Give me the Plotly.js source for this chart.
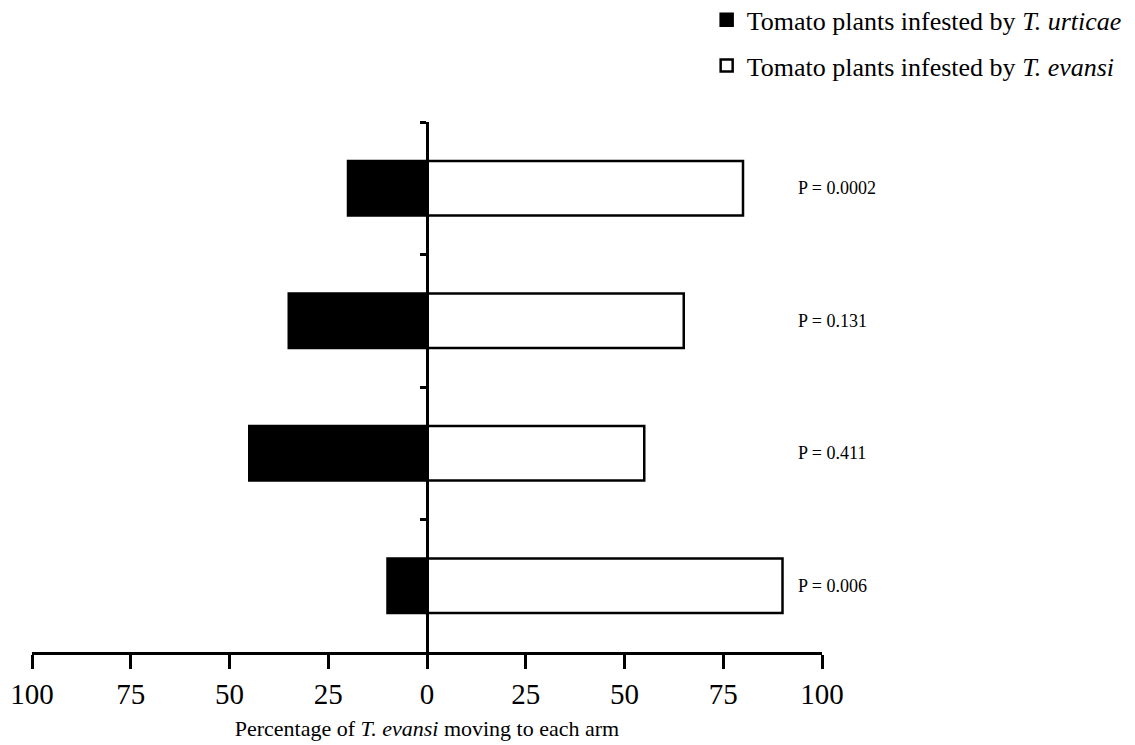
<!DOCTYPE html>
<html>
<head>
<meta charset="utf-8">
<script src="https://cdn.plot.ly/plotly-3.0.1.min.js"></script>
<style>html,body{margin:0;padding:0;background:#fff;}#chart{width:1135px;height:745px;}</style>
</head>
<body>
<div id="chart"></div>
<script>
// Data (rows top to bottom)
const rowIndex = [0, 1, 2, 3];
const pLabels = ['P = 0.0002', 'P = 0.131', 'P = 0.411', 'P = 0.006'];
const urticaePct = [20, 35, 45, 10];   // % moving to plants infested by T. urticae (left)
const evansiPct = [80, 65, 55, 90];    // % moving to plants infested by T. evansi (right)
const tickValues = [-100, -75, -50, -25, 0, 25, 50, 75, 100];
const tickLabels = ['100', '75', '50', '25', '0', '25', '50', '75', '100'];
const separators = [-0.5, 0.5, 1.5, 2.5];

const serif = 'Liberation Serif, Times New Roman, serif';

const traces = [
  {
    type: 'bar', orientation: 'h',
    name: 'Tomato plants infested by <i>T. urticae</i>',
    y: rowIndex, x: urticaePct.map(v => -v),
    width: 0.41,
    marker: {color: '#000', line: {color: '#000', width: 2.5}},
    legendgroup: 'a', hoverinfo: 'skip'
  },
  {
    type: 'bar', orientation: 'h',
    name: 'Tomato plants infested by <i>T. evansi</i>',
    y: rowIndex, x: evansiPct,
    width: 0.41,
    marker: {color: '#fff', line: {color: '#000', width: 2.5}},
    legendgroup: 'b', hoverinfo: 'skip'
  }
];

const annotations = pLabels.map((t, i) => ({
  text: t, x: 93.3, y: rowIndex[i], xref: 'x', yref: 'y',
  xanchor: 'left', yanchor: 'middle', showarrow: false,
  font: {family: serif, size: 18, color: '#000'}
}));

const layout = {
  width: 1135, height: 745,
  margin: {l: 32, r: 313, t: 122, b: 93, autoexpand: false},
  paper_bgcolor: '#fff', plot_bgcolor: '#fff',
  barmode: 'relative',
  showlegend: true,
  legend: {
    x: 0.854, y: 1.237, xanchor: 'left', yanchor: 'top',
    font: {family: serif, size: 26, color: '#000'},
    traceorder: 'grouped', tracegroupgap: 9,
    bgcolor: 'rgba(0,0,0,0)'
  },
  xaxis: {
    range: [-100, 100],
    tickvals: tickValues, ticktext: tickLabels,
    ticks: 'outside', ticklen: 14, tickwidth: 3, tickcolor: '#000',
    showline: true, linewidth: 3, linecolor: '#000',
    showgrid: false, zeroline: false,
    tickfont: {family: serif, size: 29, color: '#000'},
    title: {text: 'Percentage of <i>T. evansi</i> moving to each arm',
            font: {family: serif, size: 22, color: '#000'}, standoff: 12},
    fixedrange: true
  },
  yaxis: {
    range: [3.5, -0.5],
    anchor: 'free', position: 0.5,
    tickvals: separators, showticklabels: false,
    ticks: 'outside', ticklen: 6, tickwidth: 3, tickcolor: '#000',
    showline: true, linewidth: 3, linecolor: '#000',
    showgrid: false, zeroline: false,
    fixedrange: true
  },
  annotations: annotations
};

Plotly.newPlot('chart', traces, layout, {displayModeBar: false, staticPlot: true});
</script>
</body>
</html>
